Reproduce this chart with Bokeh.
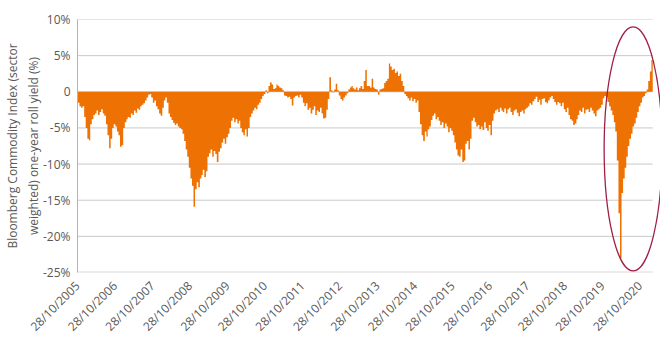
import numpy as np
import pandas as pd
from math import pi
from bokeh.plotting import figure
from bokeh.models import FixedTicker, DatetimeTickFormatter, Range1d, ColumnDataSource
from bokeh.embed import file_html
from bokeh.resources import INLINE

# Bloomberg Commodity Index one-year roll yield (%), two values per month (1st half, 2nd half)
y2005 = [-1.5, -2.0, -2.2, -2.0]  # Nov, Dec
y2006 = [-3.5, -5.0, -6.5, -6.7, -4.5, -3.8, -3.2, -3.0, -2.6, -3.2, -2.8, -2.4,
         -3.0, -3.3, -4.5, -6.0, -7.8, -6.5, -5.0, -4.5, -4.8, -5.5, -6.0, -7.6]
y2007 = [-7.4, -5.0, -4.2, -3.8, -3.5, -3.6, -3.0, -3.2, -2.6, -2.9, -2.3, -2.5,
         -2.0, -1.8, -1.6, -1.2, -0.8, -0.4, -0.3, -0.8, -1.5, -1.2, -2.0, -2.4]
y2008 = [-3.0, -3.3, -2.2, -1.2, -0.8, -1.5, -3.0, -3.5, -3.9, -4.3, -4.6, -4.4,
         -4.8, -5.0, -5.2, -5.8, -6.8, -8.0, -9.0, -10.5, -12.0, -13.0, -15.9, -13.5]
y2009 = [-12.5, -13.2, -12.0, -11.5, -10.8, -11.8, -11.0, -9.0, -8.5, -8.0, -9.0, -8.2,
         -8.6, -9.7, -8.3, -7.8, -7.0, -6.5, -7.2, -6.3, -5.8, -5.0, -4.0, -3.6]
y2010 = [-4.2, -3.8, -4.4, -4.0, -5.0, -5.6, -6.0, -5.2, -6.2, -5.0, -3.5, -3.0,
         -2.6, -2.2, -2.4, -1.8, -1.5, -1.0, -0.6, -0.3, 0.2, -0.2, 0.8, 1.3]
y2011 = [1.0, 0.4, 0.5, 1.0, 0.8, 0.6, 0.5, 0.2, -0.5, -0.6, -0.8, -0.7,
         -1.0, -1.9, -0.8, -0.6, -0.5, -0.8, -0.4, -0.8, -1.5, -2.0, -1.6, -2.5]
y2012 = [-2.2, -3.0, -2.5, -2.0, -3.2, -2.6, -2.8, -2.2, -3.0, -3.7, -3.6, -2.5,
         -1.0, 2.0, 0.2, -0.1, 0.3, 1.1, 0.2, -0.5, -1.0, -1.2, -0.8, -0.5]
y2013 = [-0.2, 0.3, 0.6, 0.8, 0.5, 0.3, 0.6, 0.2, 0.5, 0.8, 0.4, 1.5,
         3.0, 0.8, 0.8, 0.6, 1.8, 0.6, 0.4, 0.3, -0.4, 0.3, 0.4, 0.5]
y2014 = [1.2, 1.5, 1.8, 3.9, 3.5, 3.0, 3.2, 2.6, 2.8, 2.2, 2.5, 1.5,
         0.8, -0.3, -0.6, -0.9, -1.2, -0.8, -1.3, -1.0, -1.5, -1.2, -2.8, -4.5]
y2015 = [-6.0, -6.8, -5.5, -6.2, -5.2, -4.8, -3.9, -3.3, -3.0, -3.8, -3.5, -4.0,
         -4.6, -4.2, -5.0, -4.4, -4.8, -5.6, -5.0, -5.4, -6.0, -7.0, -8.0, -8.8]
y2016 = [-9.0, -8.0, -9.7, -9.5, -7.2, -6.8, -8.0, -6.5, -4.0, -3.6, -4.2, -4.8,
         -4.6, -5.2, -4.8, -5.3, -4.2, -5.0, -5.4, -4.6, -6.0, -4.0, -3.0, -2.6]
y2017 = [-2.4, -2.8, -2.2, -2.6, -2.8, -2.3, -3.0, -2.4, -2.2, -2.8, -3.2, -2.6,
         -2.4, -2.9, -3.4, -2.8, -2.6, -3.0, -2.4, -2.2, -2.0, -1.6, -1.8, -1.3]
y2018 = [-1.0, -0.7, -1.4, -1.1, -1.8, -1.0, -0.9, -1.4, -1.6, -1.2, -0.8, -0.6,
         -1.0, -1.4, -1.8, -1.4, -1.6, -2.0, -1.5, -2.4, -2.8, -2.2, -3.2, -3.8]
y2019 = [-4.0, -4.6, -4.4, -3.8, -3.2, -2.6, -2.8, -2.2, -3.0, -2.5, -2.4, -2.8,
         -2.2, -2.6, -3.0, -3.4, -2.6, -2.4, -2.2, -1.8, -0.9, -0.6, -0.8, -1.4]
y2020 = [-2.0, -2.6, -3.2, -4.2, -5.5, -9.5, -16.8, -23.0, -14.0, -12.0, -10.5, -9.0,
         -7.5, -6.5, -5.8, -4.8, -4.4, -3.6, -2.8, -2.0, -1.5, -0.8, -0.6, -0.2]
y2021 = [0.3, 1.5, 2.8, 4.4]  # Jan, Feb

first_month = "2005-11-01"

x_tick_labels = ["28/10/2005", "28/10/2006", "28/10/2007", "28/10/2008", "28/10/2009",
                 "28/10/2010", "28/10/2011", "28/10/2012", "28/10/2013", "28/10/2014",
                 "28/10/2015", "28/10/2016", "28/10/2017", "28/10/2018", "28/10/2019",
                 "28/10/2020"]
y_ticks = [10, 5, 0, -5, -10, -15, -20, -25]
y_tick_labels = ["10%", "5%", "0", "-5%", "-10%", "-15%", "-20%", "-25%"]
y_title = "Bloomberg Commodity Index (sector\nweighted) one-year roll yield (%)"

values = np.array(y2005 + y2006 + y2007 + y2008 + y2009 + y2010 + y2011 + y2012 +
                  y2013 + y2014 + y2015 + y2016 + y2017 + y2018 + y2019 + y2020 + y2021)

def ms(ts):
    return pd.Timestamp(ts).value / 1e6

months = pd.date_range(first_month, periods=len(values) // 2, freq="MS")
lefts = []
for m in months:
    lefts += [ms(m), ms(m + pd.Timedelta(days=15))]
data_end = ms(months[-1] + pd.offsets.MonthBegin(1))

xs = lefts + [data_end]
ys = list(values) + [values[-1]]
src = ColumnDataSource(dict(x=xs, y1=[0.0] * len(xs), y2=ys))

tick_dates = [ms(pd.to_datetime(s, format="%d/%m/%Y")) for s in x_tick_labels]
x_start = tick_dates[0]
x_end = x_start + 15.547 * 365.25 * 86400000

TEXT = "#595959"
FONT = "Open Sans"

p = figure(x_axis_type="datetime", frame_width=583, frame_height=253,
           min_border_left=10, min_border_right=0, min_border_top=19, min_border_bottom=10,
           x_range=Range1d(x_start, x_end), y_range=Range1d(-25, 10),
           output_backend="svg", toolbar_location=None)
p.outline_line_color = None
p.xgrid.visible = False
p.ygrid.visible = False

# horizontal gridlines, ending at the data's end
grid_y = [t for t in y_ticks if t != -25]
p.segment(x0=[x_start] * len(grid_y), x1=[data_end] * len(grid_y), y0=grid_y, y1=grid_y,
          line_color="#c9c9c9", line_width=1)
p.segment(x0=[x_start], x1=[data_end], y0=[-25], y1=[-25], line_color="#dcdcdc", line_width=2)

p.varea_step(x="x", y1="y1", y2="y2", source=src, step_mode="after", fill_color="#EE7203")

# highlight ellipse around 2020 trough
p.ellipse(x=[ms("2020-08-22")], y=[-7.9], width=58, height=244,
          width_units="screen", height_units="screen",
          fill_color=None, line_color="#9E2145", line_width=1.3)

p.xaxis.ticker = FixedTicker(ticks=tick_dates)
fmt = "%d/%m/%Y"
p.xaxis.formatter = DatetimeTickFormatter(days=fmt, months=fmt, years=fmt, hours=fmt,
                                          hourmin=fmt, minutes=fmt, minsec=fmt, seconds=fmt,
                                          milliseconds=fmt, microseconds=fmt, context=None)
p.xaxis.major_label_orientation = pi / 4
p.xaxis.axis_line_color = None
p.xaxis.major_tick_line_color = None
p.xaxis.minor_tick_line_color = None
p.xaxis.major_tick_in = 0
p.xaxis.major_tick_out = 0
p.xaxis.major_label_standoff = 11

p.yaxis.ticker = FixedTicker(ticks=y_ticks)
p.yaxis.major_label_overrides = {t: l for t, l in zip(y_ticks, y_tick_labels)}
p.yaxis.axis_line_color = "#b3b3b3"
p.yaxis.major_tick_line_color = None
p.yaxis.minor_tick_line_color = None
p.yaxis.major_tick_in = 0
p.yaxis.major_tick_out = 0
p.yaxis.major_label_standoff = 7
p.yaxis.axis_label = y_title
p.yaxis.axis_label_standoff = -2
p.yaxis.axis_label_text_font = FONT
p.yaxis.axis_label_text_font_size = "12px"
p.yaxis.axis_label_text_font_style = "normal"
p.yaxis.axis_label_text_color = TEXT
p.yaxis.axis_label_text_line_height = 1.25

for ax in (p.xaxis, p.yaxis):
    ax.major_label_text_font = FONT
    ax.major_label_text_font_size = "12px"
    ax.major_label_text_color = TEXT

open("out.html", "w").write(file_html(p, INLINE))
